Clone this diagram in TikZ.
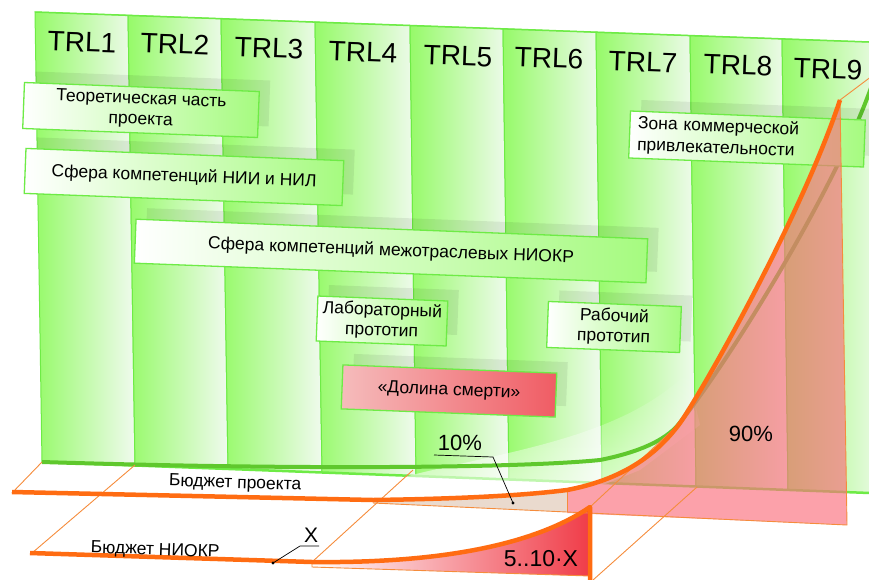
\documentclass[tikz,border=0pt]{standalone}
\usepackage{fontspec}
\setmainfont{Liberation Sans}
\usetikzlibrary{shadows,fadings}
\definecolor{gline}{RGB}{110,235,70}
\definecolor{gsat}{RGB}{150,250,105}
\definecolor{gpale}{RGB}{240,250,238}
\definecolor{orng}{RGB}{255,108,18}
\definecolor{orthin}{RGB}{245,140,60}
\definecolor{gcurve}{RGB}{95,200,45}
\definecolor{pinkp}{RGB}{250,110,125}
\definecolor{redbox}{RGB}{240,92,100}
\definecolor{redboxl}{RGB}{245,188,188}
\definecolor{redfill}{RGB}{240,60,72}
\definecolor{beige}{RGB}{234,218,206}
\begin{document}
\begin{tikzpicture}[x=1pt,y=-1pt,
  colband/.style={draw=gline, line width=1pt, left color=gsat, right color=gpale},
  trl/.style={font=\fontsize{28}{30}\selectfont, rotate=-2, inner sep=0pt},
  gbox/.style={draw=gline, line width=1.3pt, left color=white, right color=gsat!85!white,
    rotate=-2.2, inner sep=0pt, align=center, font=\fontsize{17.5}{20.5}\selectfont,
    drop shadow={shadow xshift=11pt, shadow yshift=11pt, fill=black, opacity=.07}},
  rbox/.style={gbox, left color=redboxl, right color=redbox},
  lbl/.style={font=\fontsize{22}{24}\selectfont, inner sep=0pt},
  flbl/.style={font=\fontsize{17.5}{19}\selectfont, inner sep=0pt, rotate=-2, anchor=base},
  thickor/.style={draw=orng, line width=4.5pt, line join=round},
  thinor/.style={draw=orthin, line width=.9pt},
  leader/.style={draw=black, line width=.7pt}
]
\useasboundingbox (0,0) rectangle (869,579);
\clip (0,0) rectangle (869,579);

% ---- green panel columns
\foreach \xa/\ya/\xb/\yb/\xc/\yc/\xd/\yd in {
 35/12/128/15.3/135/465.5/42/462,
 128/15.3/221/18.7/228/469/135/465.5,
 221/18.7/315/22.1/322/472.5/228/469,
 315/22.1/410/25.5/416/476/322/472.5,
 410/25.5/503/28.8/509/479.5/416/476,
 503/28.8/596/32.2/602/483/509/479.5,
 596/32.2/690/35.6/696/486.5/602/483,
 690/35.6/782/38.9/788/490/696/486.5,
 782/38.9/880/42.4/886/493.6/788/490}
 {\path[colband] (\xa,\ya) -- (\xb,\yb) -- (\xc,\yc) -- (\xd,\yd) -- cycle;}
\draw[gline, line width=1.5pt] (35,12) -- (880,42.4);
\draw[gline, line width=2.5pt] (42,462) -- (886,493.6);

% ---- TRL labels
\node[trl] (trl1) at (82,42) {TRL1};
\node[trl] (trl2) at (175,44) {TRL2};
\node[trl] (trl3) at (269,48) {TRL3};
\node[trl] (trl4) at (363,52) {TRL4};
\node[trl] (trl5) at (458,56) {TRL5};
\node[trl] (trl6) at (549,58) {TRL6};
\node[trl] (trl7) at (643,62) {TRL7};
\node[trl] (trl8) at (738,65) {TRL8};
\node[trl] (trl9) at (828,69) {TRL9};

% ---- fog near the curves
\fill[white, opacity=.6, path fading=north] (400,478) .. controls (500,452) and (620,440) .. (688,372) -- (700,425) -- (640,470) -- (600,486) -- cycle;

% ---- green budget curve (behind the boxes)
\draw[gcurve, line width=4pt] (42,462) .. controls (300,470) and (520,468) .. (600,460) .. controls (640,452) and (665,440) .. (678,425) .. controls (730,360) and (835,190) .. (872,85);

% ---- boxes
\node[gbox, minimum width=235pt, minimum height=46pt] (theory) at (141,110) {Теоретическая часть\\проекта};
\node[gbox, minimum width=318pt, minimum height=45pt] (nii) at (184,177) {Сфера компетенций НИИ и НИЛ};
\node[gbox, minimum width=512pt, minimum height=44pt] (inter) at (391,251) {Сфера компетенций межотраслевых НИОКР};
\node[gbox, minimum width=130pt, minimum height=45pt] (lab) at (382,321) {Лабораторный\\прототип};
\node[gbox, minimum width=133pt, minimum height=46pt] (work) at (614,327) {Рабочий\\прототип};
\node[rbox, minimum width=214pt, minimum height=44pt] (death) at (449,391) {«Долина смерти»};
\node[gbox, minimum width=235pt, minimum height=47pt, text width=219pt, align=left, inner xsep=8pt,
  font=\fontsize{17.5}{21.5}\selectfont] (zone) at (747,139) {Зона коммерческой\\привлекательности};

% ---- project budget plane fills
\fill[beige] (373,500) .. controls (450,499) and (520,496) .. (567,490) -- (567,512) -- (373,503) -- cycle;
\fill[pinkp, opacity=.65] (567,490) .. controls (620,480) and (655,457) .. (680,423) .. controls (700,395) and (800,220) .. (840,100) -- (847,525) -- (567,513) -- cycle;

% ---- R&D budget red wedge
\path[left color=white, right color=redfill] (312,562) .. controls (400,563) and (520,555) .. (590,507) -- (590,576) -- (312,567) -- cycle;

% ---- thin floor lines
\draw[thinor] (42,462) -- (12,493);
\draw[thinor] (135,465) -- (32,553);
\draw[thinor] (413,470) -- (312,562);
\draw[thinor] (697,487) -- (593,580);
\draw[thinor] (373,503) -- (567,512) -- (847,525) -- (840,100) -- (872,76);
\draw[thinor] (567,490) -- (567,512);
\draw[thinor] (312,562) -- (312,567) -- (590,576);
\draw[thinor] (590,507) -- (678,425);

% ---- thick budget curves
\draw[thickor] (12,492) -- (373,500) .. controls (450,499) and (520,496) .. (567,490) .. controls (620,480) and (655,457) .. (680,423) .. controls (700,395) and (800,220) .. (840,100);
\draw[thickor] (30,553) -- (312,562) .. controls (400,563) and (520,555) .. (590,507) -- (590,582);

% ---- labels
\node[lbl] (p10) at (460,443) {10\%};
\node[lbl] (p90) at (751,434) {90\%};
\node[lbl, font=\fontsize{23}{25}\selectfont] (p5) at (541,559) {5..10·X};
\node[lbl, font=\fontsize{21}{23}\selectfont] (px) at (311,535) {X};
\node[flbl] (bproj) at (235,488) {Бюджет проекта};
\node[flbl] (bniokr) at (155,555) {Бюджет НИОКР};

\coordinate (u10a) at (434,455);
\coordinate (u10b) at (493,457);
\coordinate (d10) at (513,503);
\draw[leader] (u10a) -- (u10b) -- (d10);
\fill (d10) circle (1.6pt);
\coordinate (uxa) at (300,546);
\coordinate (uxb) at (319,546);
\coordinate (dx) at (273,563);
\draw[leader] (uxb) -- (uxa) -- (dx);
\fill (dx) circle (1.6pt);
\end{tikzpicture}
\end{document}
